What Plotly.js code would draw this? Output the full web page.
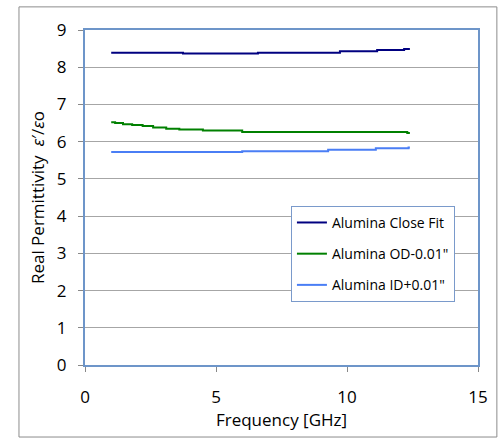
<!DOCTYPE html>
<html><head><meta charset="utf-8">
<script src="https://cdn.plot.ly/plotly-3.0.1.min.js"></script>
<style>html,body{margin:0;padding:0;background:#fff}</style>
</head><body><div id="chart" style="width:501px;height:440px"></div>
<script>
// Step data (frequency in GHz, real permittivity)
const closeFitX = [1.0, 3.74, 6.6, 9.73, 11.15, 12.18, 12.4];
const closeFitY = [8.39, 8.37, 8.39, 8.43, 8.46, 8.49, 8.49];
const odX = [1.0, 1.15, 1.45, 1.8, 2.2, 2.6, 3.1, 3.6, 4.5, 6.0, 12.3, 12.4];
const odY = [6.52, 6.50, 6.47, 6.45, 6.42, 6.38, 6.35, 6.33, 6.30, 6.26, 6.23, 6.23];
const idX = [1.0, 6.0, 9.28, 11.1, 12.35, 12.4];
const idY = [5.72, 5.74, 5.78, 5.82, 5.84, 5.84];
const seriesNames = ['Alumina Close Fit', 'Alumina OD-0.01"', 'Alumina ID+0.01"'];
const xTicks = [0, 5, 10, 15];
const yTicks = [0, 1, 2, 3, 4, 5, 6, 7, 8, 9];

const font = "Open Sans, Noto Sans, sans-serif";
const traces = [
  {x: closeFitX, y: closeFitY, name: seriesNames[0], legendgroup: 'a', line: {color: '#000080', width: 2, shape: 'hv'}},
  {x: odX, y: odY, name: seriesNames[1], legendgroup: 'b', line: {color: '#008000', width: 2, shape: 'hv'}},
  {x: idX, y: idY, name: seriesNames[2], legendgroup: 'c', line: {color: '#4a7ef5', width: 2, shape: 'hv'}}
].map(t => Object.assign({type: 'scatter', mode: 'lines'}, t));

const layout = {
  width: 501, height: 440,
  margin: {l: 85, r: 23, t: 30, b: 75},
  paper_bgcolor: '#fff', plot_bgcolor: '#fff',
  font: {family: font, color: '#000', size: 15},
  showlegend: true,
  legend: {x: 0.524, y: 0.475, xanchor: 'left', yanchor: 'top',
    bgcolor: '#fff', bordercolor: '#7a9acb', borderwidth: 1,
    font: {family: font, size: 14}, traceorder: 'grouped', tracegroupgap: 10},
  xaxis: {range: [0, 15], tickvals: xTicks, ticks: 'outside', ticklen: 5, tickcolor: '#888',
    showgrid: false, zeroline: false, showline: true, linecolor: '#6d95c9', linewidth: 2, mirror: true,
    ticklabelstandoff: 11, tickfont: {size: 17},
    title: {text: 'Frequency [GHz]', font: {size: 17}, standoff: 6}},
  yaxis: {range: [0, 9], tickvals: yTicks, ticks: 'outside', ticklen: 5, tickcolor: '#888',
    showgrid: true, gridcolor: '#a6a6a6', gridwidth: 1, zeroline: false,
    showline: true, linecolor: '#6d95c9', linewidth: 2, mirror: true,
    ticklabelstandoff: 8, tickfont: {size: 17},
    title: {text: 'Real Permittivity  <i>ε</i>′/<i>ε</i>o', font: {size: 17}, standoff: 8}},
  shapes: [{type: 'rect', xref: 'paper', yref: 'paper', x0: -0.168, x1: 1.048, y0: -0.215, y1: 1.069,
    line: {color: '#8c8c8c', width: 1}, layer: 'below'}]
};
Plotly.newPlot('chart', traces, layout, {staticPlot: true, displayModeBar: false});
</script></body></html>
